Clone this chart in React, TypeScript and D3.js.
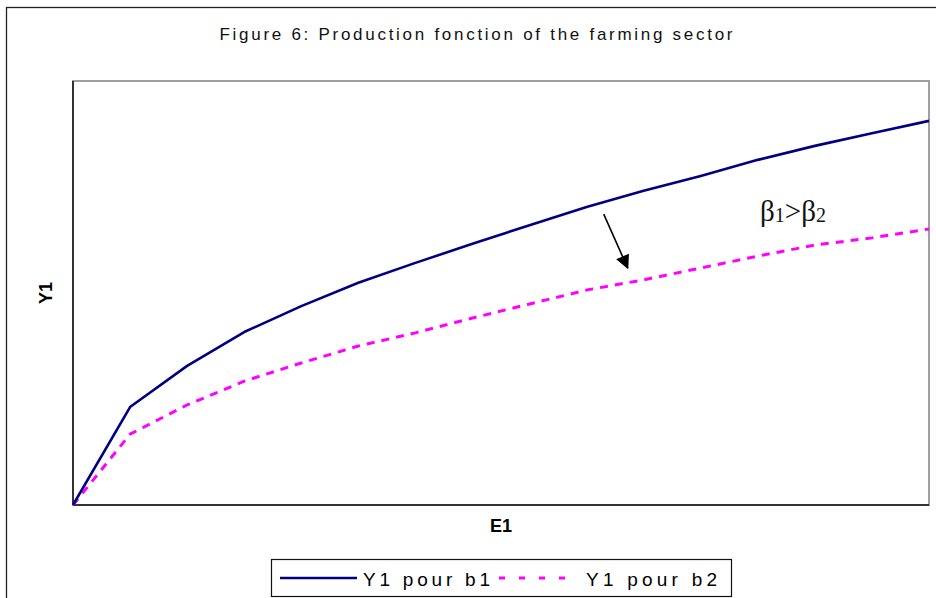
import React from 'react';
import * as d3 from 'd3';

// E1 steps on the horizontal axis
const E1 = [0, 1, 2, 3, 4, 5, 6, 7, 8, 9, 10, 11, 12, 13, 14, 15];
// Y1 (axis has no ticks, scaled 0..100)
const Y1_B1 = [0, 23.1, 32.8, 40.8, 46.9, 52.4, 57.1, 61.6, 66.0, 70.3, 74.1, 77.6, 81.4, 84.7, 87.7, 90.6];
const Y1_B2 = [0, 16.7, 23.6, 29.2, 33.5, 37.5, 40.6, 44.1, 47.4, 50.7, 53.1, 55.9, 58.7, 61.3, 63.0, 65.1];
const SERIES_NAMES = ['Y1 pour b1', 'Y1 pour b2'];

// annotation, in data units
const ARROW_FROM = [9.3, 68.6];
const ARROW_TO = [9.72, 55.9];
const NOTE_AT = [12.04, 66.9];

const width = 936;
const height = 598;
const marginTop = 81;
const marginRight = 7;
const marginBottom = 93;
const marginLeft = 73;

const font = "'Liberation Sans', Arial, sans-serif";

export default function App() {
  const x = d3.scaleLinear()
    .domain([0, 15])
    .range([marginLeft, width - marginRight]);

  const y = d3.scaleLinear()
    .domain([0, 100])
    .range([height - marginBottom, marginTop]);

  const line = d3.line<number>()
    .x((_, i) => x(E1[i]))
    .y(d => y(d));

  const plotW = width - marginRight - marginLeft;
  const plotH = height - marginBottom - marginTop;
  const cx = marginLeft + plotW / 2;

  return (
    <svg width={width} height={height} viewBox={`0 0 ${width} ${height}`}
      style={{ position: 'absolute', left: 0, top: 0, background: '#fff' }}>
      <defs>
        <marker id="head" viewBox="0 0 10 10" refX="9" refY="5"
          markerWidth="16" markerHeight="14" markerUnits="userSpaceOnUse" orient="auto">
          <path d="M0,0 L10,5 L0,10 z" fill="#000" />
        </marker>
      </defs>

      {/* chart area */}
      <rect x={6.5} y={7.5} width={950} height={620} fill="none" stroke="#222" strokeWidth={1.3} />

      <text x={476} y={40} textAnchor="middle" fontFamily={font} fontSize={17}
        textLength={513} lengthAdjust="spacing" fill="#111">
        Figure 6: Production fonction of the farming sector
      </text>

      {/* plot area */}
      <rect x={marginLeft} y={marginTop} width={plotW} height={plotH}
        fill="none" stroke="#a0a0a0" strokeWidth={2} />
      <line x1={x(0)} x2={x(0)} y1={marginTop} y2={y(0)} stroke="#333" strokeWidth={2} />
      <line x1={x(0)} x2={x(15)} y1={y(0)} y2={y(0)} stroke="#333" strokeWidth={2} />

      <path d={line(Y1_B2) ?? ''} fill="none" stroke="#ff00ff" strokeWidth={3}
        strokeDasharray="8,7" strokeLinejoin="round" />
      <path d={line(Y1_B1) ?? ''} fill="none" stroke="#000080" strokeWidth={2.6}
        strokeLinejoin="round" />

      {/* annotation */}
      <line x1={x(ARROW_FROM[0])} y1={y(ARROW_FROM[1])}
        x2={x(ARROW_TO[0])} y2={y(ARROW_TO[1])}
        stroke="#000" strokeWidth={1.6} markerEnd="url(#head)" />
      <text x={x(NOTE_AT[0])} y={y(NOTE_AT[1])} fontFamily="'Liberation Serif', 'Times New Roman', serif"
        fontSize={29} fill="#111">
        β<tspan fontSize={20} dy={1}>1</tspan><tspan dy={-1}>&gt;β</tspan><tspan fontSize={20} dy={1}>2</tspan>
      </text>

      {/* axis titles */}
      <text x={cx} y={532} textAnchor="middle" fontFamily={font} fontWeight="bold" fontSize={18}>E1</text>
      <text transform={`translate(52,${marginTop + plotH / 2}) rotate(-90)`} textAnchor="middle"
        fontFamily={font} fontWeight="bold" fontSize={18}>Y1</text>

      {/* legend */}
      <rect x={271.5} y={559.5} width={460} height={37} fill="#fff" stroke="#111" strokeWidth={1.2} />
      <line x1={280} x2={357} y1={578} y2={578} stroke="#000080" strokeWidth={2.6} />
      <text x={363} y={586} fontFamily={font} fontSize={19} textLength={127} lengthAdjust="spacing">
        {SERIES_NAMES[0]}
      </text>
      <line x1={499} x2={576} y1={578} y2={578} stroke="#ff00ff" strokeWidth={3} strokeDasharray="6,14" />
      <text x={586} y={586} fontFamily={font} fontSize={19} textLength={131} lengthAdjust="spacing">
        {SERIES_NAMES[1]}
      </text>
    </svg>
  );
}
